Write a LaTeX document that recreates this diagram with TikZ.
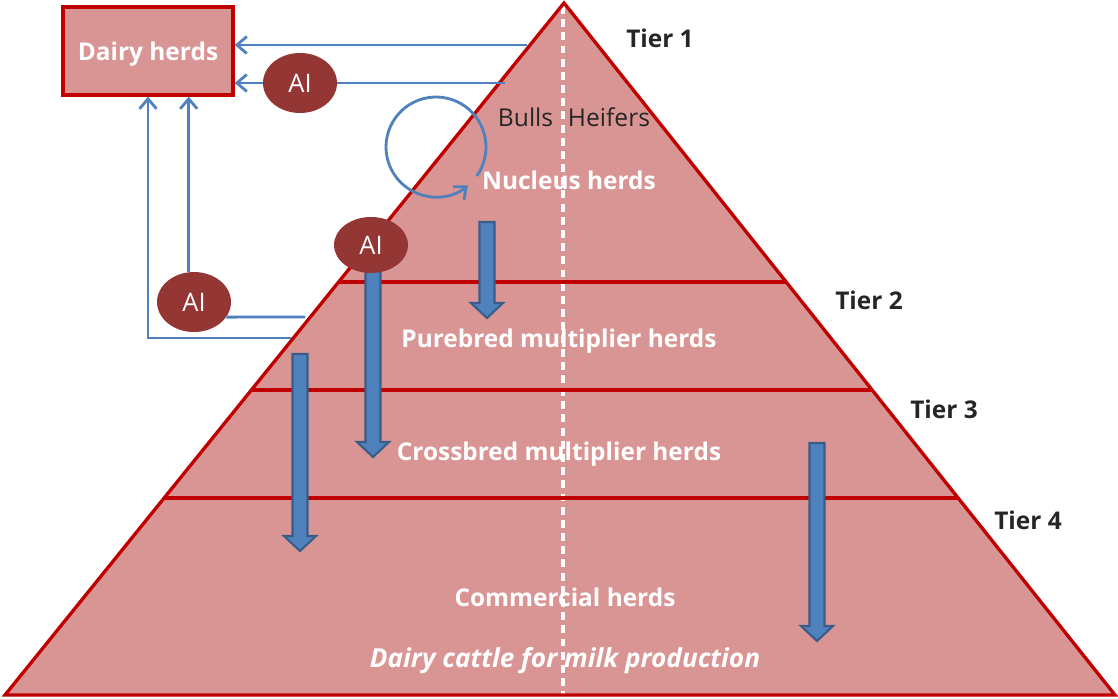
\documentclass[tikz,border=0pt]{standalone}
\usepackage{fontspec}
\setmainfont{Open Sans}
\usetikzlibrary{shapes.geometric,arrows.meta,calc}
\definecolor{pyrfill}{HTML}{D99594}
\definecolor{pyrline}{HTML}{C00000}
\definecolor{aired}{HTML}{943634}
\definecolor{linkblue}{HTML}{4F81BD}
\definecolor{blkline}{HTML}{385D8A}
\definecolor{tiergray}{HTML}{262626}
\begin{document}
\begin{tikzpicture}[
    x=0.02cm, y=0.02cm,
    txt/.style={font=\fontsize{13.9}{16}\selectfont\bfseries},
    lbl/.style={txt, text=white},
    tier/.style={txt, text=tiergray},
    herdbox/.style={lbl, draw=pyrline, fill=pyrfill, line width=1.9pt,
        minimum width=3.4cm, minimum height=1.76cm, text depth=0pt},
    ai/.style={ellipse, fill=aired, minimum width=1.48cm, minimum height=1.2cm,
        inner sep=0pt, text=white, font=\fontsize{14.5}{16}\selectfont},
    plain/.style={draw=linkblue, line width=1.6pt},
    link/.style={plain, -{Straight Barb[length=2mm,width=3.4mm]}},
    blk/.style={fill=linkblue, draw=blkline, line width=1.2pt, line join=miter},
    layer/.style={draw=pyrline, line width=1.9pt}
]
    \useasboundingbox (0,0) rectangle (1118,698);

    \coordinate (apex) at (564,695);
    \coordinate (bl) at (5,3);
    \coordinate (br) at (1115,3);
    \fill[pyrfill] (bl) -- (apex) -- (br) -- cycle;
    \draw[white, line width=1.9pt, dash pattern=on 4.5pt off 3pt] (563,692) -- (563,3);
    \foreach \t in {0.5968,0.4408,0.2847}
        \draw[layer] ($(bl)!\t!(apex)$) -- ($(br)!\t!(apex)$);
    \draw[layer, line join=miter] (bl) -- (apex) -- (br) -- cycle;

    \node[tier] (t1) at (660,660) {Tier 1};
    \node[tier] (t2) at (869,398) {Tier 2};
    \node[tier] (t3) at (944,289) {Tier 3};
    \node[tier] (t4) at (1028,178) {Tier 4};

    \node[font=\fontsize{14}{16}\selectfont, text=tiergray] (bh) at (574,581) {Bulls\hspace{0.6em}Heifers};
    \node[lbl] (nucleus) at (569,518) {Nucleus herds};
    \node[lbl] (pure) at (559,357) {Purebred multiplier herds};
    \node[lbl] (cross) at (559,244) {Crossbred multiplier herds};
    \node[lbl] (comm) at (565,101) {Commercial herds};
    \node[lbl, font=\fontsize{14.9}{17}\selectfont\bfseries\itshape] (milk) at (565,37) {Dairy cattle for milk production};

    \foreach \x/\ya/\yb in {487/476/380, 373/440/241, 300/344/147, 817/255/57}
        \draw[blk] (\x-7.5,\ya) -- (\x+7.5,\ya) -- (\x+7.5,\yb+15) -- (\x+16,\yb+15)
            -- (\x,\yb) -- (\x-16,\yb+15) -- (\x-7.5,\yb+15) -- cycle;

    \node[herdbox] (dairy) at (148,647) {Dairy herds};
    \node[ai] (ai1) at (300,615) {AI};
    \node[ai, minimum height=1.12cm] (ai2) at (371,453) {AI};
    \node[ai] (ai3) at (194,396) {AI};

    \coordinate (in1) at (527,653);
    \coordinate (in2) at (505,615);
    \coordinate (in3) at (305,381);
    \coordinate (in4) at (291,360);
    \coordinate (loopc) at (436,551);

    \draw[link] (in1) -- (dairy.east |- in1);
    \draw[plain] (in2) -- (ai1.east);
    \draw[link] (ai1.west) -- (dairy.east |- ai1);
    \draw[plain] (in3) -- (ai3.-25);
    \draw[link] (ai3.100) -- (ai3.100 |- dairy.south);
    \draw[link] (in4) -| (dairy.south);
    \draw[link] ($(loopc)+(-35.5:1cm)$) arc[start angle=-35.5, end angle=309.7, radius=1cm];
\end{tikzpicture}
\end{document}
